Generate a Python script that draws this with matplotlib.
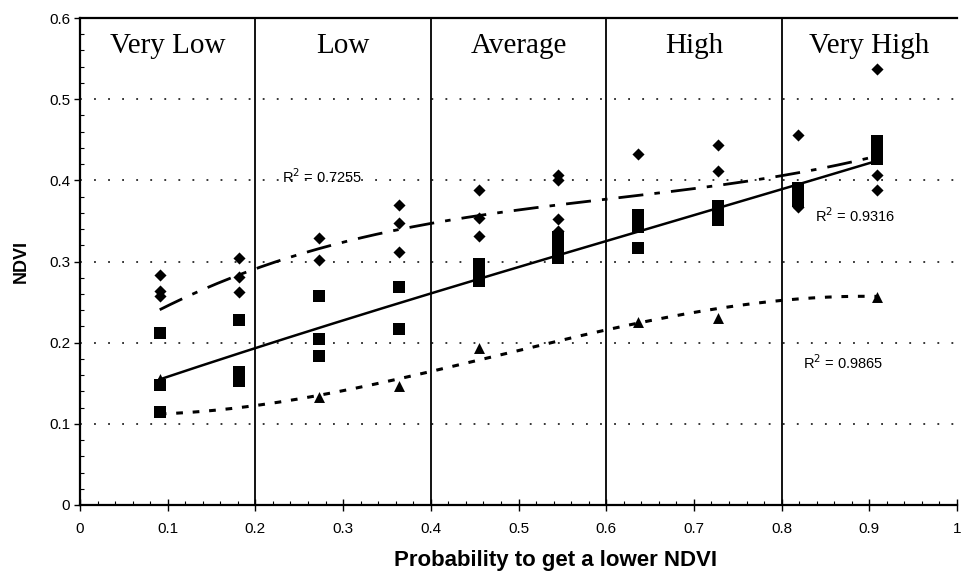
import numpy as np
import matplotlib
matplotlib.use("Agg")
import matplotlib.pyplot as plt
from matplotlib.ticker import MultipleLocator

# ---- data ----
classes = ["Very Low", "Low", "Average", "High", "Very High"]
class_centers = [0.1, 0.3, 0.5, 0.7, 0.9]
class_bounds = [0.2, 0.4, 0.6, 0.8]

prob = [0.0909, 0.1818, 0.2727, 0.3636, 0.4545, 0.5455, 0.6364, 0.7273, 0.8182, 0.9091]

diamond_vals = [
    [0.283, 0.264, 0.258],
    [0.304, 0.281, 0.263],
    [0.329, 0.302],
    [0.370, 0.347, 0.312],
    [0.388, 0.353, 0.332],
    [0.407, 0.401, 0.352, 0.337],
    [0.432],
    [0.444, 0.411],
    [0.456, 0.367],
    [0.537, 0.406, 0.388],
]
square_vals = [
    [0.212, 0.148, 0.114],
    [0.228, 0.164, 0.153],
    [0.258, 0.204, 0.183],
    [0.268, 0.217],
    [0.297, 0.283, 0.276],
    [0.330, 0.317, 0.304, 0.310],
    [0.357, 0.342, 0.317],
    [0.368, 0.360, 0.351],
    [0.391, 0.383, 0.374],
    [0.448, 0.441, 0.426, 0.432],
]
triangle_x = [0.0909, 0.2727, 0.3636, 0.4545, 0.6364, 0.7273, 0.9091]
triangle_y = [0.155, 0.133, 0.146, 0.193, 0.226, 0.231, 0.256]

# trend line values
trend_x = [0.0909, 0.2, 0.4, 0.6, 0.8, 0.9091]
trend_upper = [0.241, 0.290, 0.348, 0.376, 0.406, 0.430]
trend_mid = [0.154, 0.195, 0.259, 0.326, 0.389, 0.424]
trend_low = [0.112, 0.123, 0.164, 0.216, 0.252, 0.257]

r2_labels = ["R$^2$ = 0.7255", "R$^2$ = 0.9316", "R$^2$ = 0.9865"]
r2_pos = [(0.23, 0.405), (0.838, 0.356), (0.824, 0.175)]

xticks = [0, 0.1, 0.2, 0.3, 0.4, 0.5, 0.6, 0.7, 0.8, 0.9, 1.0]
xticklabels = ["0", "0.1", "0.2", "0.3", "0.4", "0.5", "0.6", "0.7", "0.8", "0.9", "1"]
yticks = [0, 0.1, 0.2, 0.3, 0.4, 0.5, 0.6]
yticklabels = ["0", "0.1", "0.2", "0.3", "0.4", "0.5", "0.6"]

# ---- figure ----
plt.rcParams["font.family"] = ["Liberation Sans", "DejaVu Sans"]
fig = plt.figure(figsize=(9.65, 5.77), dpi=100)
ax = fig.add_axes([80 / 965, 1 - 505 / 577, 877 / 965, 487 / 577])
ax.set_xlim(0, 1.0)
ax.set_ylim(0, 0.6)

# gridlines
for yv in yticks[1:-1]:
    ax.axhline(yv, color="black", lw=1.1, ls=(0, (1.2, 8)), zorder=1)
# class boundaries
for b in class_bounds:
    ax.axvline(b, color="black", lw=1.3, zorder=2)

# markers
dx = [p for p, vals in zip(prob, diamond_vals) for _ in vals]
dy = [v for vals in diamond_vals for v in vals]
sx = [p for p, vals in zip(prob, square_vals) for _ in vals]
sy = [v for vals in square_vals for v in vals]
ax.scatter(dx, dy, marker="D", s=38, color="black", zorder=4, linewidths=0)
ax.scatter(sx, sy, marker="s", s=66, color="black", zorder=4, linewidths=0)
ax.scatter(triangle_x, triangle_y, marker="^", s=62, color="black", zorder=4, linewidths=0)

# trend lines (smooth cubic through read values)
xs = np.linspace(trend_x[0], trend_x[-1], 200)
for vals, ls, lw in [
    (trend_upper, (0, (9, 4, 2, 4)), 2.0),
    (trend_mid, "-", 1.8),
    (trend_low, (0, (2.2, 3.2)), 2.2),
]:
    c = np.polyfit(trend_x, vals, 3)
    ax.plot(xs, np.polyval(c, xs), color="black", ls=ls, lw=lw, zorder=3)

# class labels
for name, cx in zip(classes, class_centers):
    ax.text(cx, 0.565, name, ha="center", va="center", fontsize=21,
            family=["Liberation Serif", "DejaVu Serif"], zorder=5)

for lab, (tx, ty) in zip(r2_labels, r2_pos):
    ax.text(tx, ty, lab, ha="left", va="center", fontsize=10.5, zorder=5)

# axes styling
ax.spines["right"].set_visible(False)
for s in ["left", "bottom", "top"]:
    ax.spines[s].set_linewidth(1.6)
ax.set_xticks(xticks)
ax.set_xticklabels(xticklabels, fontsize=11)
ax.set_yticks(yticks)
ax.set_yticklabels(yticklabels, fontsize=11)
ax.tick_params(axis="x", direction="inout", length=8, width=1, pad=8)
ax.tick_params(axis="y", direction="out", length=4, width=1, pad=3)
ax.xaxis.set_minor_locator(MultipleLocator(0.02))
ax.yaxis.set_minor_locator(MultipleLocator(0.02))
ax.tick_params(which="minor", axis="both", direction="in", length=3, width=0.8)

ax.set_xlabel("Probability to get a lower NDVI", fontsize=16, fontweight="bold")
ax.xaxis.set_label_coords((556 - 80) / 877, -0.093)
ax.set_ylabel("NDVI", fontsize=13, fontweight="bold", labelpad=14)

fig.savefig("out.png", dpi=100)
